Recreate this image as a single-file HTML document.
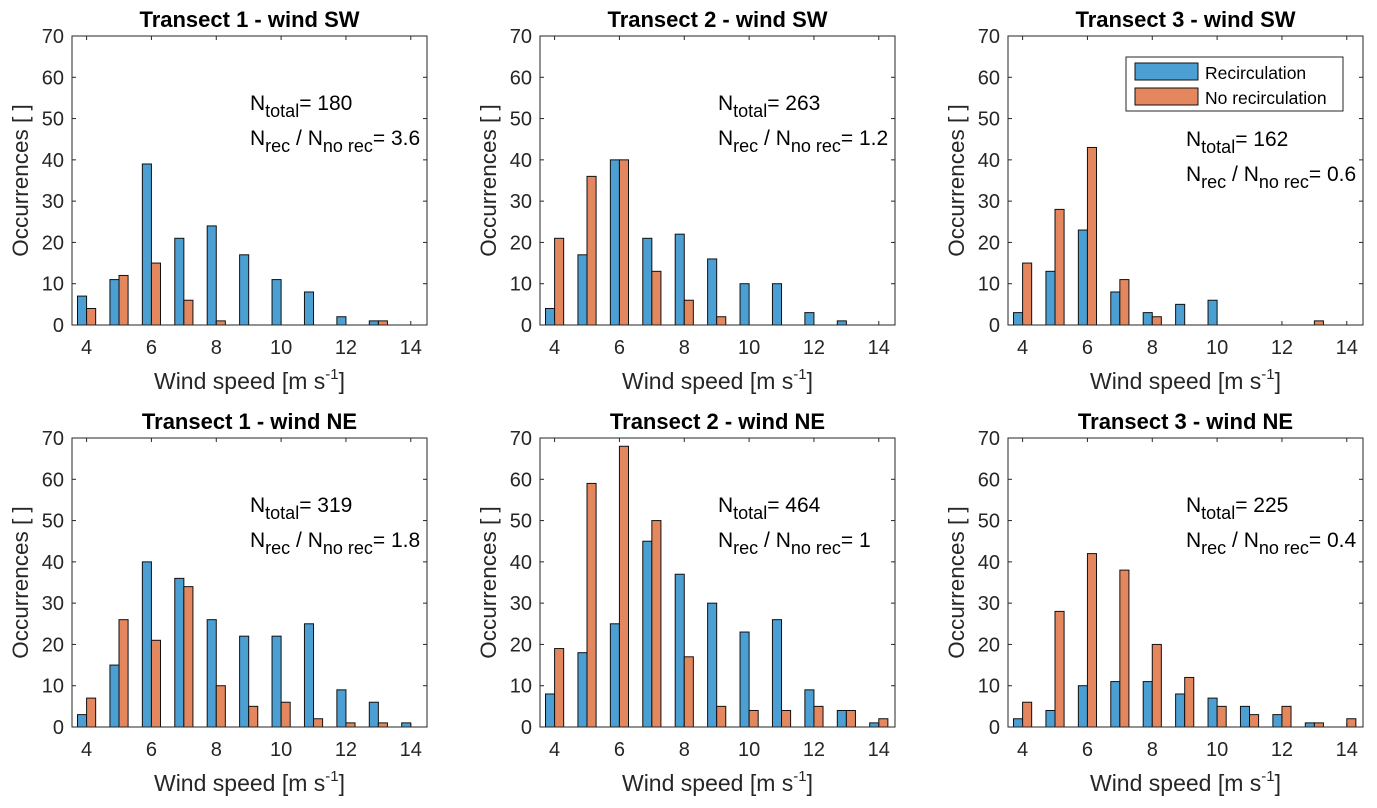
<!DOCTYPE html>
<html><head><meta charset="utf-8">
<style>
html,body{margin:0;padding:0;background:#fff;}
svg{display:block;font-family:"Liberation Sans",Arial,sans-serif;}
</style></head>
<body>
<svg id="fig" width="1377" height="808" viewBox="0 0 1377 808" xmlns="http://www.w3.org/2000/svg"></svg>
<script>
const categories=[4,5,6,7,8,9,10,11,12,13,14];
const yTicks=[0,10,20,30,40,50,60,70];
const xTicks=[4,6,8,10,12,14];
const titles=["Transect 1 - wind SW","Transect 2 - wind SW","Transect 3 - wind SW","Transect 1 -  wind NE","Transect 2 - wind NE","Transect 3 - wind NE"];
const recT1SW=[7,11,39,21,24,17,11,8,2,1,0];
const norT1SW=[4,12,15,6,1,0,0,0,0,1,0];
const recT2SW=[4,17,40,21,22,16,10,10,3,1,0];
const norT2SW=[21,36,40,13,6,2,0,0,0,0,0];
const recT3SW=[3,13,23,8,3,5,6,0,0,0,0];
const norT3SW=[15,28,43,11,2,0,0,0,0,1,0];
const recT1NE=[3,15,40,36,26,22,22,25,9,6,1];
const norT1NE=[7,26,21,34,10,5,6,2,1,1,0];
const recT2NE=[8,18,25,45,37,30,23,26,9,4,1];
const norT2NE=[19,59,68,50,17,5,4,4,5,4,2];
const recT3NE=[2,4,10,11,11,8,7,5,3,1,0];
const norT3NE=[6,28,42,38,20,12,5,3,5,1,2];
const nTotals=["180","263","162","319","464","225"];
const ratios=["3.6","1.2","0.6","1.8","1","0.4"];

const svg=document.getElementById('fig');
const NS="http://www.w3.org/2000/svg";
function mk(tag,attrs,parent){const e=document.createElementNS(NS,tag);for(const k in attrs)e.setAttribute(k,attrs[k]);(parent||svg).appendChild(e);return e;}

const recs=[recT1SW,recT2SW,recT3SW,recT1NE,recT2NE,recT3NE];
const nors=[norT1SW,norT2SW,norT3SW,norT1NE,norT2NE,norT3NE];
const lefts=[72,540,1008];
const tops=[36,438];
const W=355,H=289;
const xMin=3.55,xMax=14.5,yMax=70;

for(let p=0;p<6;p++){
  const L=lefts[p%3],T=tops[Math.floor(p/3)];
  const g=mk('g',{});
  
  
  const sx=v=>L+(v-xMin)/(xMax-xMin)*W;
  const sy=v=>T+H-v/yMax*H;
  const bw=(sx(1)-sx(0))*0.28;
  mk('rect',{x:L,y:T,width:W,height:H,fill:'#fff'},g);
  categories.forEach((c,i)=>{
    const r=recs[p][i],n=nors[p][i];
    if(r>0){const b=mk('rect',{x:sx(c)-bw,y:sy(r),width:bw,height:sy(0)-sy(r),fill:'#4c9fd3',stroke:'#111','stroke-width':1},g);
      
      }
    if(n>0){const b=mk('rect',{x:sx(c),y:sy(n),width:bw,height:sy(0)-sy(n),fill:'#e4875e',stroke:'#111','stroke-width':1},g);
      
      }
  });
  mk('rect',{x:L,y:T,width:W,height:H,fill:'none',stroke:'#262626','stroke-width':1},g);
  yTicks.forEach(v=>{
    const y=sy(v);
    mk('line',{x1:L,x2:L+4,y1:y,y2:y,stroke:'#262626'},g);
    mk('line',{x1:L+W,x2:L+W-4,y1:y,y2:y,stroke:'#262626'},g);
    const t=mk('text',{x:L-8,y:y+7,'text-anchor':'end','font-size':20,fill:'#262626'},g);
    t.textContent=v;
    
    
  });
  xTicks.forEach(v=>{
    const x=sx(v);
    mk('line',{x1:x,x2:x,y1:T+H,y2:T+H-4,stroke:'#262626'},g);
    mk('line',{x1:x,x2:x,y1:T,y2:T+4,stroke:'#262626'},g);
    const t=mk('text',{x:x,y:T+H+29,'text-anchor':'middle','font-size':20,fill:'#262626'},g);
    t.textContent=v;
    
    
  });
  const tt=mk('text',{x:L+W/2,y:T-9,'text-anchor':'middle','font-size':22,'font-weight':'bold',fill:'#000'},g);
  tt.textContent=titles[p];
  
  
  const xl=mk('text',{x:L+W/2,y:T+H+64,'text-anchor':'middle','font-size':23,fill:'#262626'},g);
  xl.innerHTML='Wind speed [m s<tspan dy="-10" font-size="15">-1</tspan><tspan dy="10">]</tspan>';
  
  
  const yl=mk('text',{x:0,y:0,'text-anchor':'middle','font-size':22.5,fill:'#262626',transform:`translate(${L-44},${T+H/2}) rotate(-90)`},g);
  yl.textContent='Occurrences [ ]';
  
  
  const ax=L+178, ay=(p===2)?T+110:T+74;
  const a1=mk('text',{x:ax,y:ay,'font-size':21,fill:'#000'},g);
  a1.innerHTML='N<tspan dy="7" font-size="18">total</tspan><tspan dy="-7">= '+nTotals[p]+'</tspan>';
  
  
  const a2=mk('text',{x:ax,y:ay+35,'font-size':21,fill:'#000'},g);
  a2.innerHTML='N<tspan dy="7" font-size="18">rec</tspan><tspan dy="-7"> / N</tspan><tspan dy="7" font-size="18">no rec</tspan><tspan dy="-7">= '+ratios[p]+'</tspan>';
  
  
  if(p===2){
    const lg=mk('g',{},g);
    
    
    mk('rect',{x:1126,y:57,width:217,height:54,fill:'#fff',stroke:'#262626'},lg);
    mk('rect',{x:1135,y:63,width:63,height:17,fill:'#4c9fd3',stroke:'#111'},lg);
    mk('rect',{x:1135,y:88,width:63,height:17,fill:'#e4875e',stroke:'#111'},lg);
    const l1=mk('text',{x:1205,y:79,'font-size':17.5,fill:'#000'},lg);l1.textContent='Recirculation';
    
    
    const l2=mk('text',{x:1205,y:104,'font-size':17.5,fill:'#000'},lg);l2.textContent='No recirculation';
    
    
  }
}
</script>
</body></html>
